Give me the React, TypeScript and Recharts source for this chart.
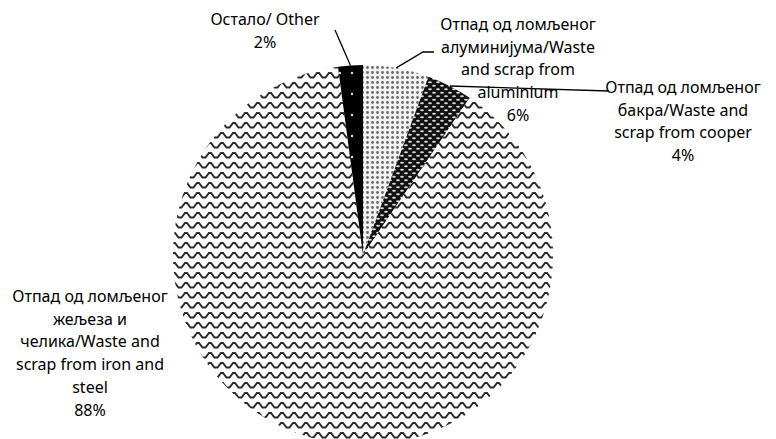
import React from "react";
import { PieChart, Pie, Cell } from "recharts";

const categories = [
  "Отпад од ломљеног алуминијума/Waste and scrap from aluminium",
  "Отпад од ломљеног бакра/Waste and scrap from cooper",
  "Отпад од ломљеног жељеза и челика/Waste and scrap from iron and steel",
  "Остало/ Other",
];
const shares = [5.6, 3.9, 88.4, 2.1];
const shareLabels = ["6%", "4%", "88%", "2%"];
const labelLines = [
  ["Отпад од ломљеног", "алуминијума/Waste", "and scrap from", "aluminium"],
  ["Отпад од ломљеног", "бакра/Waste and", "scrap from cooper"],
  ["Отпад од ломљеног", "жељеза и", "челика/Waste and", "scrap from iron and", "steel"],
  ["Остало/ Other"],
];

const data = categories.map((name, i) => ({ name, value: shares[i] }));

const FILLS = ["url(#dots)", "url(#ovals)", "url(#wave)", "url(#blackdots)"];

// label placement (text center x, first baseline y, leader elbow points)
const LAYOUT: { x: number; y: number; leader: number[][] }[] = [
  { x: 518, y: 30, leader: [[423, 52], [434, 52]] },
  { x: 683, y: 93, leader: [[609, 91]] },
  { x: 90, y: 302, leader: [] },
  { x: 265, y: 25, leader: [[335, 30]] },
];

const RADIAN = Math.PI / 180;
const LINE_H = 22.7;

const renderLabel = (props: any) => {
  const { cx, cy, outerRadius, midAngle, index } = props;
  const lay = LAYOUT[index];
  const ex = cx + outerRadius * Math.cos(-midAngle * RADIAN);
  const ey = cy + outerRadius * Math.sin(-midAngle * RADIAN);
  const lines = [...labelLines[index], shareLabels[index]];
  const pts = lay.leader.length ? [[ex, ey], ...lay.leader] : [];
  return (
    <g key={`lbl-${index}`}>
      {pts.length > 0 && (
        <polyline
          points={pts.map((p) => p.join(",")).join(" ")}
          fill="none"
          stroke="#000"
          strokeWidth={1.3}
        />
      )}
      <text
        x={lay.x}
        y={lay.y}
        textAnchor="middle"
        fontFamily="'Noto Sans', sans-serif"
        fontSize={16}
        fill="#000"
      >
        {lines.map((t, i) => (
          <tspan key={i} x={lay.x} y={lay.y + i * LINE_H}>
            {t}
          </tspan>
        ))}
      </text>
    </g>
  );
};

export default function App() {
  return (
    <div style={{ position: "absolute", left: 0, top: 0, width: 776, height: 439, background: "#fff" }}>
      <svg width={0} height={0} style={{ position: "absolute" }}>
        <defs>
          <pattern id="wave" patternUnits="userSpaceOnUse" width={12} height={10}>
            <rect width={12} height={10} fill="#fff" />
            <path d="M-1,7.5 L1.5,7.5 L5,3 L7,3 L10.5,7.5 L13,7.5" fill="none" stroke="#2a2a2a" strokeWidth={2} />
          </pattern>
          <pattern id="dots" patternUnits="userSpaceOnUse" width={5} height={5}>
            <rect width={5} height={5} fill="#f2f2f2" />
            <circle cx={2.5} cy={2.5} r={1.4} fill="#6a6a6a" />
          </pattern>
          <pattern id="ovals" patternUnits="userSpaceOnUse" width={8} height={7}>
            <rect width={8} height={7} fill="#111" />
            <ellipse cx={2} cy={1.75} rx={1.9} ry={1} fill="#ddd" />
            <ellipse cx={6} cy={5.25} rx={1.9} ry={1} fill="#ddd" />
          </pattern>
          <pattern id="blackdots" patternUnits="userSpaceOnUse" width={12} height={21}>
            <rect width={12} height={21} fill="#000" />
            <circle cx={4} cy={10} r={1.2} fill="#ddd" />
          </pattern>
        </defs>
      </svg>
      <PieChart width={776} height={439}>
        <Pie
          data={data}
          dataKey="value"
          nameKey="name"
          cx={358}
          cy={250}
          outerRadius={190}
          startAngle={90}
          endAngle={-270}
          stroke="none"
          label={renderLabel}
          labelLine={false}
          isAnimationActive={false}
        >
          {data.map((d, i) => (
            <Cell key={`cell-${i}`} fill={FILLS[i]} />
          ))}
        </Pie>
      </PieChart>
    </div>
  );
}
